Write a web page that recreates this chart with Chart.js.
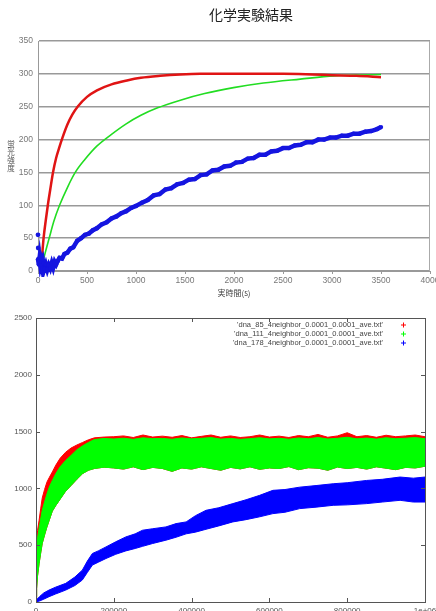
<!DOCTYPE html>
<html><head><meta charset="utf-8">
<script src="https://cdn.jsdelivr.net/npm/chart.js@4/dist/chart.umd.min.js"></script>
<style>
html,body{margin:0;padding:0;background:#fff;width:436px;height:611px;overflow:hidden}
canvas{position:absolute;left:0}
#c1{top:0}
#c2{top:300px}
</style></head><body>
<canvas id="c1" width="436" height="300" style="width:436px;height:300px"></canvas>
<canvas id="c2" width="436" height="311" style="width:436px;height:311px"></canvas>
<script>
// ---------- top chart (Excel style) ----------
const topTitle = '化学実験結果';
const topXTitle = '実時間(s)';
const topYTitle = '蛍光強度';

const redT = [40, 57, 80, 102, 125, 153, 185, 215, 250, 300, 350, 404, 500, 602, 750, 908, 1050, 1248, 1450, 1657, 2000, 2500, 2800, 3000, 3250, 3500];
const redV = [20, 50, 78, 102, 124, 150, 172, 187, 203, 223, 238, 250, 265, 275, 284, 290, 294, 297, 299, 300, 300, 300, 299, 298, 297, 295];

const greenT = [60, 90, 118, 160, 220, 300, 380, 480, 600, 750, 900, 1050, 1214, 1453, 1700, 1995, 2300, 2676, 3020, 3250, 3500];
const greenV = [20, 37, 52, 75, 100, 127, 150, 170, 190, 208, 224, 237, 248, 260, 270, 279, 286, 292, 297, 298, 299];

const blueT = [0, 8, 16, 25, 35, 45, 55, 65, 80, 95, 110, 125, 140, 155, 170, 185, 200, 220, 245, 270, 300, 330, 360, 400, 440, 480, 520, 560, 600, 650, 700, 750, 800, 850, 900, 950, 1000, 1060, 1120, 1180, 1240, 1300, 1360, 1420, 1480, 1540, 1600, 1660, 1720, 1780, 1840, 1900, 1960, 2020, 2080, 2140, 2200, 2260, 2320, 2380, 2440, 2500, 2560, 2620, 2680, 2740, 2800, 2860, 2920, 2980, 3040, 3100, 3160, 3220, 3280, 3340, 3400, 3460, 3500];
const blueV = [18, 10, 20, 8, 14, 4, 12, 3, 10, 2, 9, 4, 12, 5, 14, 10, 15, 20, 19, 26, 28, 34, 36, 46, 50, 55, 57, 62, 65, 71, 74, 80, 83, 88, 91, 96, 99, 104, 108, 115, 117, 124, 126, 132, 134, 139, 140, 146, 147, 153, 154, 159, 160, 165, 166, 171, 172, 177, 177, 182, 183, 187, 187, 191, 192, 196, 196, 200, 200, 203, 203, 206, 206, 209, 209, 212, 213, 216, 219];
// isolated early outlier readings
const blueOutT = [0, 2, 30];
const blueOutV = [55, 35, 24];

const topXTicks = {min: 0, max: 4000, step: 500};
const topYTicks = {min: 0, max: 350, step: 50};

// ---------- bottom chart (gnuplot style) ----------
const legendLabels = [
  "'dna_85_4neighbor_0.0001_0.0001_ave.txt'",
  "'dna_111_4neighbor_0.0001_0.0001_ave.txt'",
  "'dna_178_4neighbor_0.0001_0.0001_ave.txt'"
];

const rgT = [0, 1500, 4000, 8000, 12000, 16000, 22000, 28000, 34000, 42000, 51000, 62000, 76000, 90000, 105000, 120000, 135000, 150000, 175000, 200000, 225000, 250000, 275000, 300000, 325000, 350000, 375000, 400000, 425000, 450000, 475000, 500000, 525000, 550000, 575000, 600000, 625000, 650000, 675000, 700000, 725000, 750000, 775000, 800000, 825000, 850000, 875000, 900000, 925000, 950000, 975000, 1000000];
const redHi = [40, 480, 630, 720, 820, 915, 990, 1055, 1095, 1145, 1205, 1265, 1318, 1355, 1382, 1405, 1428, 1445, 1452, 1455, 1462, 1448, 1470, 1452, 1460, 1450, 1465, 1445, 1458, 1470, 1450, 1462, 1448, 1455, 1470, 1452, 1460, 1448, 1465, 1455, 1475, 1450, 1462, 1490, 1455, 1465, 1450, 1468, 1455, 1462, 1470, 1455];
const greenHi = [50, 400, 560, 650, 730, 807, 880, 950, 1011, 1070, 1131, 1190, 1245, 1290, 1340, 1375, 1405, 1430, 1440, 1435, 1442, 1432, 1445, 1438, 1440, 1433, 1444, 1436, 1441, 1447, 1434, 1440, 1432, 1438, 1446, 1436, 1441, 1433, 1444, 1437, 1448, 1435, 1441, 1450, 1436, 1443, 1434, 1446, 1437, 1442, 1447, 1438];
const greenLo = [0, 120, 230, 340, 430, 515, 590, 660, 720, 800, 850, 905, 975, 1025, 1080, 1131, 1160, 1175, 1187, 1180, 1170, 1190, 1165, 1185, 1175, 1150, 1180, 1170, 1190, 1175, 1160, 1185, 1172, 1190, 1168, 1180, 1175, 1192, 1165, 1182, 1178, 1160, 1188, 1175, 1185, 1170, 1190, 1178, 1165, 1185, 1180, 1195];

const blueBT = [0, 10000, 20000, 33500, 50000, 76500, 100000, 119000, 132000, 145000, 160000, 180000, 205000, 231000, 255000, 274000, 300000, 334000, 360000, 386000, 410000, 437000, 470000, 506000, 540000, 575000, 609000, 640000, 678000, 720000, 764000, 800000, 850000, 890000, 936000, 970000, 1000000];
const blueHi = [15, 50, 80, 105, 130, 164, 220, 280, 360, 427, 450, 485, 530, 573, 600, 632, 645, 661, 690, 705, 760, 807, 830, 866, 900, 939, 983, 990, 1011, 1025, 1041, 1050, 1070, 1080, 1100, 1090, 1100];
const blueLo = [0, 10, 25, 47, 70, 105, 145, 193, 260, 325, 350, 383, 420, 450, 471, 490, 515, 544, 570, 600, 615, 640, 670, 705, 725, 750, 778, 790, 822, 835, 851, 855, 866, 880, 895, 880, 880];

const botXTicks = {min: 0, max: 1000000, step: 200000};
const botYTicks = {min: 0, max: 2500, step: 500};

const pts = (xs, ys) => xs.map((x, i) => ({x: x, y: ys[i]}));
const plain = v => String(v);

// ---------- top chart ----------
new Chart(document.getElementById('c1'), {
  type: 'line',
  data: {datasets: [
    {label: 'blue', data: pts(blueT, blueV), borderColor: '#1515e0', backgroundColor: '#1515e0',
     borderWidth: 4.5, pointRadius: 2.2, pointBorderWidth: 0, tension: 0, clip: 6, order: 1},
    {label: 'blue-out', data: pts(blueOutT, blueOutV), showLine: false, backgroundColor: '#1515e0', borderColor: '#1515e0',
     pointRadius: 2.4, pointBorderWidth: 0, clip: 6, order: 1},
    {label: 'red', data: pts(redT, redV), borderColor: '#e01414', borderWidth: 2.5, pointRadius: 0,
     cubicInterpolationMode: 'monotone', order: 2},
    {label: 'green', data: pts(greenT, greenV), borderColor: '#22dd22', borderWidth: 1.6, pointRadius: 0,
     cubicInterpolationMode: 'monotone', order: 3}
  ]},
  options: {
    responsive: false, animation: false,
    layout: {padding: {top: 41, right: 6, left: 0, bottom: 0}},
    plugins: {legend: {display: false}, tooltip: {enabled: false}},
    scales: {
      x: {type: 'linear', min: topXTicks.min, max: topXTicks.max,
        ticks: {stepSize: topXTicks.step, font: {size: 8.5, family: 'Liberation Sans'}, color: '#777', padding: 2, maxRotation: 0, autoSkip: false, callback: plain},
        grid: {drawOnChartArea: false, color: '#999', tickLength: 3},
        border: {color: '#999'},
        title: {display: true, text: topXTitle, font: {size: 8, family: 'Noto Sans CJK JP'}, color: '#444', padding: {top: 0, bottom: 2}},
        afterFit(s) { s.height = 29; s.paddingLeft = 0; s.paddingRight = 0; }},
      y: {type: 'linear', min: topYTicks.min, max: topYTicks.max,
        ticks: {stepSize: topYTicks.step, font: {size: 8.5, family: 'Liberation Sans'}, color: '#777', padding: 5, callback: plain},
        grid: {color: '#999', lineWidth: 1.5, drawTicks: false},
        border: {color: '#999'},
        afterFit(s) { s.width = 38; s.paddingTop = 0; s.paddingBottom = 0; }}
    }
  },
  plugins: [{id: 'deco1', afterDraw(chart) {
    const ctx = chart.ctx, a = chart.chartArea;
    ctx.save();
    ctx.strokeStyle = '#aaa'; ctx.lineWidth = 1;
    ctx.beginPath(); ctx.moveTo(a.right - 0.5, a.top); ctx.lineTo(a.right - 0.5, a.bottom); ctx.stroke();
    ctx.fillStyle = '#222'; ctx.textAlign = 'center'; ctx.textBaseline = 'middle';
    ctx.font = '14px "Noto Sans CJK JP"';
    ctx.fillText(topTitle, 251, 15);
    ctx.font = '7.5px "Noto Sans CJK JP"'; ctx.fillStyle = '#555';
    [...topYTitle].forEach((ch, i) => ctx.fillText(ch, 11, 144 + i * 8));
    ctx.restore();
  }}]
});

// ---------- bottom chart ----------
const bandCol = ['#ff0000', '#00ff00', '#0000ff'];
const band = (lo, hi, t, col, ord, label) => [
  {label: label + ' lo', data: pts(t, lo), borderColor: col, borderWidth: 1, pointRadius: 0, tension: 0, fill: false, order: ord},
  {label: label, data: pts(t, hi), borderColor: col, backgroundColor: col, borderWidth: 1, pointRadius: 0, tension: 0, fill: '-1', order: ord}
];
new Chart(document.getElementById('c2'), {
  type: 'line',
  data: {datasets: [
    ...band(greenLo, redHi, rgT, bandCol[0], 3, legendLabels[0]),
    ...band(greenLo, greenHi, rgT, bandCol[1], 2, legendLabels[1]),
    ...band(blueLo, blueHi, blueBT, bandCol[2], 1, legendLabels[2])
  ]},
  options: {
    responsive: false, animation: false,
    layout: {padding: {top: 18, right: 11, left: 0, bottom: 0}},
    plugins: {legend: {display: false}, tooltip: {enabled: false}},
    scales: {
      x: {type: 'linear', min: botXTicks.min, max: botXTicks.max,
        ticks: {stepSize: botXTicks.step, font: {size: 8, family: 'Liberation Sans'}, color: '#555', padding: 4, maxRotation: 0, autoSkip: false,
          callback: v => v === 1000000 ? '1e+06' : String(v)},
        grid: {drawOnChartArea: false, drawTicks: false, display: false}, border: {display: false},
        afterFit(s) { s.height = 9; s.paddingLeft = 0; s.paddingRight = 0; }},
      y: {type: 'linear', min: botYTicks.min, max: botYTicks.max,
        ticks: {stepSize: botYTicks.step, font: {size: 8, family: 'Liberation Sans'}, color: '#555', padding: 4, callback: plain},
        grid: {drawOnChartArea: false, drawTicks: false, display: false}, border: {display: false},
        afterFit(s) { s.width = 36; s.paddingTop = 0; s.paddingBottom = 0; }}
    }
  },
  plugins: [{id: 'deco2', afterDraw(chart) {
    const ctx = chart.ctx, a = chart.chartArea, xs = chart.scales.x, ys = chart.scales.y;
    ctx.save();
    ctx.strokeStyle = '#555'; ctx.lineWidth = 1;
    ctx.strokeRect(Math.round(a.left) + 0.5, Math.round(a.top) + 0.5, Math.round(a.right - a.left), Math.round(a.bottom - a.top));
    ctx.beginPath();
    xs.ticks.forEach(t => {
      const p = Math.round(xs.getPixelForValue(t.value)) + 0.5;
      ctx.moveTo(p, a.bottom); ctx.lineTo(p, a.bottom - 4);
      ctx.moveTo(p, a.top); ctx.lineTo(p, a.top + 4);
    });
    ys.ticks.forEach(t => {
      const p = Math.round(ys.getPixelForValue(t.value)) + 0.5;
      ctx.moveTo(a.left, p); ctx.lineTo(a.left + 4, p);
      ctx.moveTo(a.right, p); ctx.lineTo(a.right - 4, p);
    });
    ctx.stroke();
    ctx.font = '7.5px "Liberation Sans"'; ctx.fillStyle = '#444';
    ctx.textAlign = 'right'; ctx.textBaseline = 'middle';
    legendLabels.forEach((lab, i) => {
      const y = 25 + i * 9;
      ctx.fillText(lab, 383, y);
      ctx.strokeStyle = bandCol[i]; ctx.lineWidth = 1;
      ctx.beginPath();
      ctx.moveTo(401, y); ctx.lineTo(406, y);
      ctx.moveTo(403.5, y - 2.5); ctx.lineTo(403.5, y + 2.5);
      ctx.stroke();
    });
    ctx.restore();
  }}]
});
</script>
</body></html>
